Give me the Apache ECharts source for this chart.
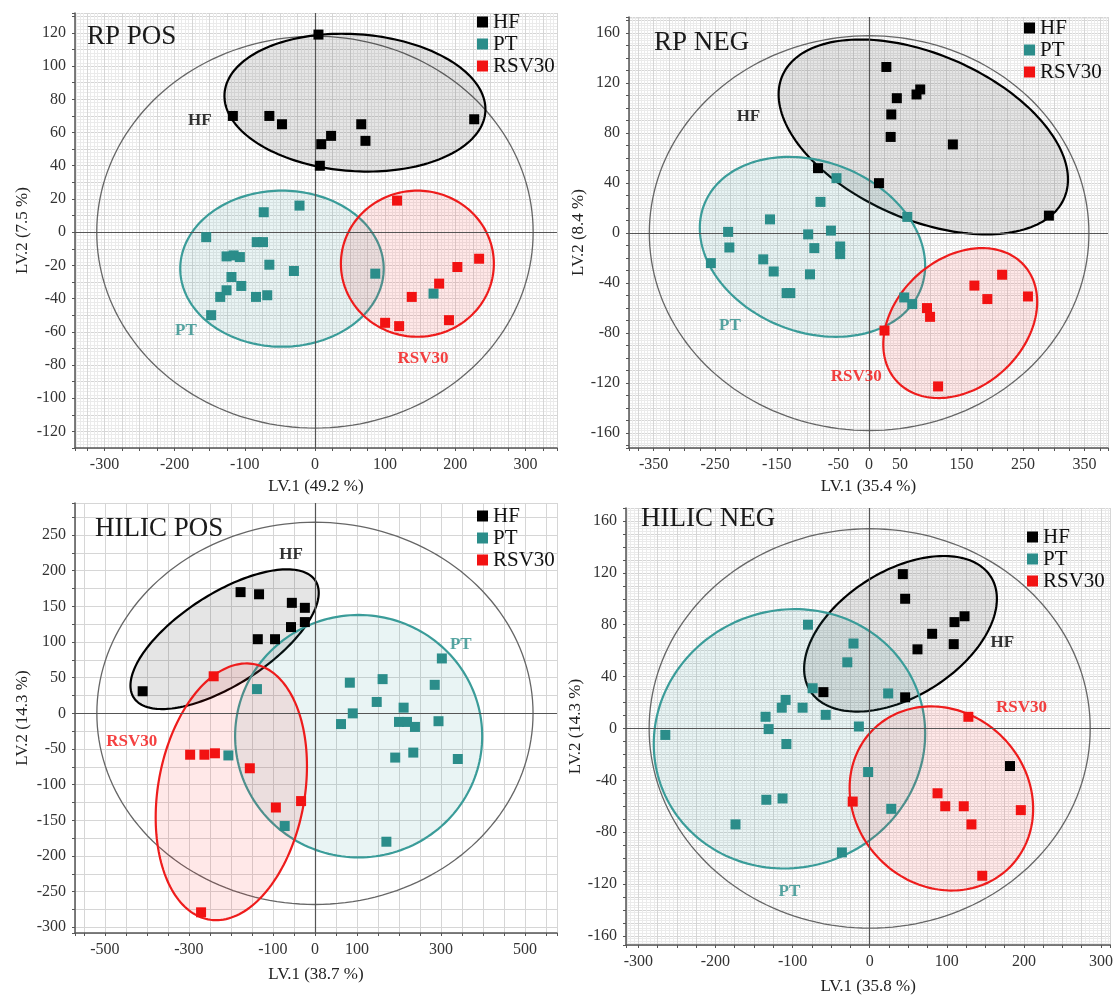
<!DOCTYPE html>
<html><head><meta charset="utf-8">
<script src="https://cdn.jsdelivr.net/npm/echarts@6/dist/echarts.min.js"></script>
<style>html,body{margin:0;padding:0;background:#fff}#c{width:1116px;height:998px}</style>
</head><body><div id="c"></div>
<script>
// ---------------- DATA ----------------
const GROUPS = ['HF', 'PT', 'RSV30'];

// RP POS
const rpPosHF = [[5,119],[-117,70],[-65,70],[-47,65],[9,53],[23,58],[7,40],[66,65],[72,55],[227,68]];
const rpPosPT = [[-22,16],[-73,12],[-155,-3],[-83,-6],[-74,-6],[-126,-14.6],[-116,-14],[-107,-15],[-65,-19.6],[-30,-23.4],[-119,-27],[-105,-32.4],[-126,-35],[-135,-39],[-84,-39],[-68,-38],[-148,-50],[86,-25],[169,-37]];
const rpPosRSV30 = [[117,19],[234,-16],[203,-21],[177,-31],[138,-39],[100,-54.6],[120,-56.6],[191,-53]];
// ellipses: [centerX, centerY, halfWidthX, halfHeightY, yOffsetAtRightmost]  (HF, PT, RSV30)
const rpPosEllipses = [[57,78,186,41.5,-4],[-47,-22,145,47,0],[146,-19,109,44,0]];
const rpPosLimit = [0,0,311,118,0];
const rpPosTagPos = [[-164,67],[-184,-59],[154,-76]];
const rpPosXTicks = [-300,-200,-100,0,100,200,300];
const rpPosYTicks = [-120,-100,-80,-60,-40,-20,0,20,40,60,80,100,120];

// RP NEG
const rpNegHF = [[28,133],[77,111],[83,115],[45,108],[36,95],[35,77],[136,71],[-83,52],[16,40],[292,14]];
const rpNegPT = [[-53,44],[-79,25],[-161,11],[62,13],[-229,1],[-99,-1],[-62,2],[-227,-11.5],[-89,-12],[-47,-10.7],[-47,-16.8],[-257,-24],[-172,-21],[-155,-30.7],[-96,-33],[-134,-48],[-128,-48],[57,-51.5],[70,-56.8]];
const rpNegRSV30 = [[216,-33.3],[171,-42],[192,-52.8],[258,-50.7],[94,-60],[99,-67],[25,-78],[112,-122.7]];
const rpNegEllipses = [[88,77,235,78,-34],[-92,-11,183,72,-15],[148,-72,125,60,17]];
const rpNegLimit = [0,0,357,158,0];
const rpNegTagPos = [[-196,93],[-226,-74],[-21,-115]];
const rpNegXTicks = [-350,-250,-150,-50,0,50,150,250,350];
const rpNegYTicks = [-160,-120,-80,-40,0,40,80,120,160];

// HILIC POS
const hilicPosHF = [[-410,31],[-177,170],[-133,167],[-55,155],[-24,148],[-24,128],[-57,121],[-136,104],[-95,104]];
const hilicPosPT = [[302,77],[285,40],[83,43],[161,48],[147,16],[211,8],[90,0],[62,-15],[200,-12],[219,-12],[238,-19],[294,-11],[-138,34],[-206,-59],[191,-62],[234,-55],[340,-64],[-72,-158],[170,-180]];
const hilicPosRSV30 = [[-241,52],[-297,-58],[-263,-58],[-238,-56],[-155,-77],[-93,-132],[-33,-123],[-271,-279]];
const hilicPosEllipses = [[-215,104,224,98,65],[104,-32,294,170,0],[-199,-110,180,180,36]];
const hilicPosLimit = [0,0,519,268,0];
const hilicPosTagPos = [[-57,222],[347,97],[-436,-40]];
const hilicPosXTicks = [-500,-300,-100,0,100,300,500];
const hilicPosYTicks = [-300,-250,-200,-150,-100,-50,0,50,100,150,200,250];

// HILIC NEG
const hilicNegHF = [[43,119],[46,100],[123,86.5],[110,82],[81,73],[109,65],[62,61],[-60,28],[46,24],[182,-29]];
const hilicNegPT = [[-80,80],[-21,65.5],[-29,51],[-74,31],[24,27],[-109,22],[-114,16],[-87,16],[-57,10.5],[-135,9],[-131,-0.5],[-14,1.5],[-265,-5],[-108,-12],[-2,-33.6],[-134,-55],[-113,-54],[28,-62],[-174,-74],[-36,-95.6]];
const hilicNegRSV30 = [[128,9],[-22,-56.4],[88,-50],[98,-60],[122,-60],[132,-74],[196,-63],[146,-113.6]];
const hilicNegEllipses = [[40,73,125,60,27],[-104,-8,176,100,4],[93,-54,119,71,-8]];
const hilicNegLimit = [0,0,286,154,0];
const hilicNegTagPos = [[172,66],[-104,-126],[197,16]];
const hilicNegXTicks = [-300,-200,-100,0,100,200,300];
const hilicNegYTicks = [-160,-120,-80,-40,0,40,80,120,160];

// ---------------- STYLE / LAYOUT ----------------
const SERIF = '"Liberation Serif","Times New Roman",serif';
const COLORS = {HF:'#000000', PT:'#2b8d8a', RSV30:'#f21212'};
const STROKES = {HF:'#000000', PT:'#3a9c99', RSV30:'#ee1c1c'};
const FILLS = {HF:'rgba(0,0,0,0.10)', PT:'rgba(58,156,153,0.11)', RSV30:'rgba(255,30,30,0.10)'};

const panels = [
  {title:'RP POS', titlePos:[82,18], legendPos:[472,6], grid:{left:75,top:13,width:482,height:435},
   x:{min:-342,max:345,step:25,minor:5,labels:rpPosXTicks,name:'LV.1 (49.2 %)',gap:30},
   y:{min:-130,max:132,step:10,minor:5,labels:rpPosYTicks,name:'LV.2 (7.5 %)',gap:44},
   points:[rpPosHF,rpPosPT,rpPosRSV30], ellipses:rpPosEllipses, limit:rpPosLimit, tags:rpPosTagPos},
  {title:'RP NEG', titlePos:[649,24], legendPos:[1019,12], grid:{left:629,top:17,width:479,height:431},
   x:{min:-390,max:388,step:25,minor:5,labels:rpNegXTicks,name:'LV.1 (35.4 %)',gap:30},
   y:{min:-172,max:173,step:10,minor:5,labels:rpNegYTicks,name:'LV.2 (8.4 %)',gap:38},
   points:[rpNegHF,rpNegPT,rpNegRSV30], ellipses:rpNegEllipses, limit:rpNegLimit, tags:rpNegTagPos},
  {title:'HILIC POS', titlePos:[90,510], legendPos:[472,500], grid:{left:75,top:503,width:482,height:430},
   x:{min:-571,max:576,step:50,minor:0,labels:hilicPosXTicks,name:'LV.1 (38.7 %)',gap:33},
   y:{min:-308,max:295,step:25,minor:0,labels:hilicPosYTicks,name:'LV.2 (14.3 %)',gap:44},
   points:[hilicPosHF,hilicPosPT,hilicPosRSV30], ellipses:hilicPosEllipses, limit:hilicPosLimit, tags:hilicPosTagPos},
  {title:'HILIC NEG', titlePos:[636,500], legendPos:[1022,521], grid:{left:626,top:508,width:486,height:437},
   x:{min:-316,max:312,step:25,minor:5,labels:hilicNegXTicks,name:'LV.1 (35.8 %)',gap:33},
   y:{min:-167,max:170,step:10,minor:5,labels:hilicNegYTicks,name:'LV.2 (14.3 %)',gap:38},
   points:[hilicNegHF,hilicNegPT,hilicNegRSV30], ellipses:hilicNegEllipses, limit:hilicNegLimit, tags:hilicNegTagPos}
];

function makeAxis(cfg, gi) {
  return {
    type:'value', gridIndex:gi, min:cfg.min, max:cfg.max,
    minInterval:cfg.step, maxInterval:cfg.step,
    splitNumber:Math.round((cfg.max-cfg.min)/cfg.step),
    name:cfg.name, nameLocation:'middle', nameGap:cfg.gap,
    nameTextStyle:{fontFamily:SERIF, fontSize:17, color:'#222'},
    axisLine:{show:true, onZero:false, lineStyle:{color:'#555', width:1.5}},
    axisTick:{show:true, length:3, lineStyle:{color:'#555'}},
    axisLabel:{fontFamily:SERIF, fontSize:16, color:'#333', margin:9,
      formatter:v => cfg.labels.some(l => Math.abs(l - v) < 1e-6) ? String(Math.round(v)) : ''},
    splitLine:{show:true, lineStyle:{color:'#d6d6d6', width:1}},
    minorTick:{show:false, splitNumber:cfg.minor || 1},
    minorSplitLine:{show:!!cfg.minor, lineStyle:{color:'#ebebeb', width:1}}
  };
}

function ellipseSeries(gi, params, fill, stroke, lw, z, name) {
  return {
    type:'custom', name, xAxisIndex:gi, yAxisIndex:gi, clip:true, silent:true, z,
    data:[params], encode:{x:0, y:1},
    renderItem:(ctx, api) => {
      const cx = api.value(0), cy = api.value(1), a = api.value(2), b = api.value(3), uy = api.value(4);
      const vy = Math.sqrt(Math.max(b*b - uy*uy, 0));
      const pts = [];
      for (let s = 0; s <= 180; s++) {
        const t = s / 180 * Math.PI * 2;
        pts.push(api.coord([cx + a*Math.cos(t), cy + uy*Math.cos(t) + vy*Math.sin(t)]));
      }
      return {type:'polygon', shape:{points:pts}, style:{fill, stroke, lineWidth:lw}};
    }
  };
}

const grids = [], xAxes = [], yAxes = [], series = [], titles = [], legends = [];
panels.forEach((p, i) => {
  grids.push(Object.assign({containLabel:false}, p.grid));
  xAxes.push(makeAxis(p.x, i));
  yAxes.push(makeAxis(p.y, i));
  titles.push({text:p.title, left:p.titlePos[0], top:p.titlePos[1],
    textStyle:{fontFamily:SERIF, fontSize:27, fontWeight:'normal', color:'#1a1a1a'}});
  legends.push({data:GROUPS, orient:'vertical', left:p.legendPos[0], top:p.legendPos[1],
    icon:'rect', itemWidth:11, itemHeight:11, itemGap:0, selectedMode:false,
    textStyle:{fontFamily:SERIF, fontSize:21, color:'#111', lineHeight:22}});
  series.push(ellipseSeries(i, p.limit, 'none', '#666', 1.3, 1, 'limit' + i));
  GROUPS.forEach((g, k) => {
    series.push(ellipseSeries(i, p.ellipses[k], FILLS[g], STROKES[g], 2.2, 2, g + ' ellipse ' + i));
  });
  GROUPS.forEach((g, k) => {
    const s = {type:'scatter', name:g, xAxisIndex:i, yAxisIndex:i, data:p.points[k],
      symbol:'rect', symbolSize:10, itemStyle:{color:COLORS[g], opacity:1}, z:5};
    if (k === 0) {
      s.markLine = {silent:true, symbol:['none','none'], label:{show:false},
        lineStyle:{color:'#555', width:1.2, type:'solid'},
        data:[{xAxis:0}, {yAxis:0}]};
    }
    series.push(s);
  });
  series.push({type:'scatter', name:'tags' + i, xAxisIndex:i, yAxisIndex:i, symbolSize:1, silent:true, z:6,
    itemStyle:{color:'rgba(0,0,0,0)'},
    data:GROUPS.map((g, k) => ({value:p.tags[k], name:g, label:{color:COLORS[g]}})),
    label:{show:true, position:'inside', formatter:'{b}', fontFamily:SERIF, fontSize:17, fontWeight:'bold'}});
});

const chart = echarts.init(document.getElementById('c'), null, {renderer:'canvas'});
chart.setOption({
  animation:false, backgroundColor:'#fff',
  title:titles, legend:legends, grid:grids, xAxis:xAxes, yAxis:yAxes, series
});
</script></body></html>
